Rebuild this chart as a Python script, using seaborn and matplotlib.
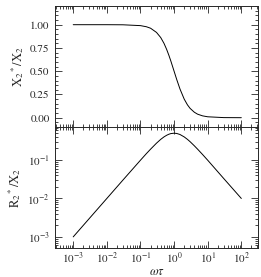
import numpy as np
import pandas as pd
import matplotlib
matplotlib.use("Agg")
import matplotlib.pyplot as plt
import seaborn as sns
from matplotlib.ticker import LogLocator, MultipleLocator, NullFormatter

sns.set_style("ticks")
plt.rcParams['font.family'] = ['STIXGeneral', 'DejaVu Serif']
plt.rcParams['mathtext.fontset'] = 'stix'

omega_tau = [0.001, 0.003, 0.01, 0.03, 0.1, 0.15, 0.2, 0.3, 0.4, 0.5, 0.6, 0.7, 0.8,
             1.0, 1.2, 1.5, 2.0, 2.5, 3.0, 4.0, 5.0, 7.0, 10.0, 30.0, 100.0]
x_real = [1.000, 1.000, 1.000, 0.999, 0.990, 0.978, 0.962, 0.917, 0.862, 0.800, 0.735,
          0.671, 0.610, 0.500, 0.410, 0.308, 0.200, 0.138, 0.100, 0.059, 0.038, 0.020,
          0.0099, 0.0011, 0.0001]
x_imag = [0.001, 0.003, 0.010, 0.030, 0.099, 0.147, 0.192, 0.275, 0.345, 0.400, 0.441,
          0.470, 0.488, 0.500, 0.492, 0.462, 0.400, 0.345, 0.300, 0.235, 0.192, 0.140,
          0.099, 0.033, 0.010]

df = pd.DataFrame({"wt": omega_tau, "re": x_real, "im": x_imag})

fig = plt.figure(figsize=(2.61, 2.77), dpi=100)
ax1 = fig.add_axes([0.211, 0.5415, 0.778, 0.4365])
ax2 = fig.add_axes([0.211, 0.1047, 0.778, 0.4368], sharex=ax1)

sns.lineplot(data=df, x="wt", y="re", ax=ax1, color="black", lw=0.7)
sns.lineplot(data=df, x="wt", y="im", ax=ax2, color="black", lw=0.7)

ax1.set_xscale("log")
ax1.set_xlim(10**-3.54, 10**2.5)
ax1.set_ylim(-0.10, 1.20)
ax2.set_yscale("log")
ax2.set_ylim(10**-3.29, 10**-0.14)

ax1.set_yticks([0.0, 0.25, 0.5, 0.75, 1.0])
ax1.set_yticklabels(["0.00", "0.25", "0.50", "0.75", "1.00"])
ax1.yaxis.set_minor_locator(MultipleLocator(0.05))

for ax in (ax1, ax2):
    ax.xaxis.set_major_locator(LogLocator(base=10, numticks=20))
    ax.xaxis.set_minor_locator(LogLocator(base=10, subs=np.arange(2, 10), numticks=20))
    ax.xaxis.set_minor_formatter(NullFormatter())
    ax.tick_params(which="both", direction="in", top=True, right=True,
                   labelsize=8, width=0.6, pad=4)
    ax.tick_params(which="major", length=5)
    ax.tick_params(which="minor", length=2.5)
    for s in ax.spines.values():
        s.set_linewidth(0.7)
    ax.set_xlabel("")

ax2.yaxis.set_major_locator(LogLocator(base=10, numticks=10))
ax2.yaxis.set_minor_locator(LogLocator(base=10, subs=np.arange(2, 10), numticks=10))
ax2.yaxis.set_minor_formatter(NullFormatter())
ax2.set_yticks([1e-3, 1e-2, 1e-1])
ax2.set_yticklabels([r"$10^{-3}$", r"$10^{-2}$", r"$10^{-1}$"])
ax2.set_xticks([1e-3, 1e-2, 1e-1, 1e0, 1e1, 1e2])
ax2.set_xticklabels([r"$10^{-3}$", r"$10^{-2}$", r"$10^{-1}$", r"$10^{0}$", r"$10^{1}$", r"$10^{2}$"])
ax2.set_xlim(10**-3.54, 10**2.5)
ax2.tick_params(axis="x", pad=2)
ax1.tick_params(labelbottom=False)

ax1.set_ylabel(r"X$_2$$^*$/X$_2$", fontsize=9, labelpad=3)
ax2.set_ylabel(r"R$_2$$^*$/X$_2$", fontsize=9, labelpad=3)
ax2.set_xlabel(r"$\omega\tau$", fontsize=9, labelpad=0)
fig.align_ylabels([ax1, ax2])

fig.savefig("out.png", dpi=100)
